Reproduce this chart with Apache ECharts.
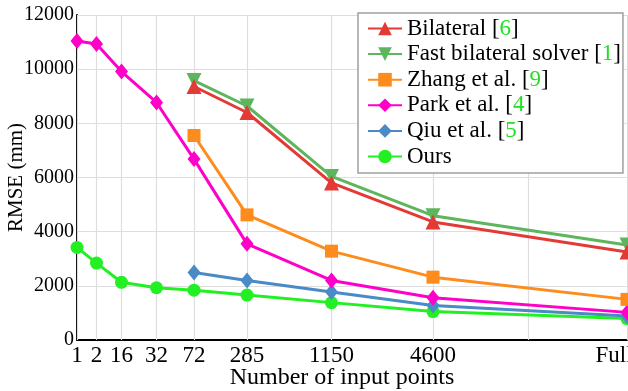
<!DOCTYPE html>
<html>
<head>
<meta charset="utf-8">
<script src="https://cdn.jsdelivr.net/npm/echarts@6/dist/echarts.min.js"></script>
<style>
html,body{margin:0;padding:0;background:#fff;}
#chart{width:628px;height:391px;}
</style>
</head>
<body>
<div id="chart"></div>
<script>
// Category labels and their positions on the (non-uniform) x axis
const categories = ['1', '2', '16', '32', '72', '285', '1150', '4600', 'Full'];
const xPositions = [0, 0.195, 0.445, 0.795, 1.17, 1.70, 2.545, 3.56, 5.5];
const extraTick = 4.51; // unlabeled grid tick
const yTicks = [0, 2000, 4000, 6000, 8000, 10000, 12000];

// RMSE (mm) values, null where a method has no result
const bilateral = [null, null, null, null, 9360, 8400, 5800, 4360, 3250];
const fastBilateral = [null, null, null, null, 9580, 8640, 6040, 4590, 3510];
const zhang = [null, null, null, null, 7550, 4620, 3280, 2320, 1500];
const park = [11040, 10930, 9910, 8770, 6680, 3550, 2200, 1560, 1020];
const qiu = [null, null, null, null, 2490, 2200, 1770, 1270, 890];
const ours = [3420, 2840, 2130, 1930, 1840, 1660, 1380, 1050, 790];

const seriesNames = [
  'Bilateral [{c|6}]',
  'Fast bilateral solver [{c|1}]',
  'Zhang et al. [{c|9}]',
  'Park et al. [{c|4}]',
  'Qiu et al. [{c|5}]',
  'Ours'
];

function toPairs(vals) {
  const out = [];
  vals.forEach((v, i) => { if (v !== null) out.push([xPositions[i], v]); });
  return out;
}

const font = 'Liberation Serif';
const seriesDefs = [
  { data: bilateral, color: '#e43a36', symbol: 'triangle', size: 15, rotate: 0 },
  { data: fastBilateral, color: '#5db55d', symbol: 'triangle', size: 15, rotate: 180 },
  { data: zhang, color: '#fd8c1d', symbol: 'rect', size: 13, rotate: 0 },
  { data: park, color: '#fe00c8', symbol: 'diamond', size: [13, 16], rotate: 0 },
  { data: qiu, color: '#4a8ac6', symbol: 'diamond', size: [13, 16], rotate: 0 },
  { data: ours, color: '#22f022', symbol: 'circle', size: 13, rotate: 0 }
];

const chart = echarts.init(document.getElementById('chart'), null, { renderer: 'canvas' });
const option = {
  animation: false,
  backgroundColor: '#fff',
  grid: { left: 77, right: 1, top: 15, bottom: 51, containLabel: false, outerBoundsMode: 'none' },
  legend: {
    orient: 'vertical',
    left: 358,
    top: 13,
    padding: [4, 2, 5, 9],
    itemWidth: 34,
    itemHeight: 17,
    itemGap: 2.6,
    backgroundColor: '#fff',
    borderColor: '#a0a0a0',
    borderWidth: 1.5,
    borderRadius: 0,
    data: seriesNames,
    textStyle: {
      fontFamily: font, fontSize: 23, color: '#000', lineHeight: 23,
      rich: { c: { color: '#22e022', fontFamily: font, fontSize: 23, lineHeight: 23 } }
    }
  },
  xAxis: {
    type: 'value',
    min: 0,
    max: xPositions[xPositions.length - 1],
    name: 'Number of input points',
    nameLocation: 'middle',
    nameGap: 26,
    nameMoveOverlap: false,
    nameTextStyle: { fontFamily: font, fontSize: 24, color: '#000', padding: [0, 20, 0, 0] },
    axisLine: { show: true, lineStyle: { color: '#000', width: 2 } },
    axisTick: {
      show: true, inside: true, length: 325,
      customValues: xPositions.slice(0, 8).concat([extraTick, xPositions[8]]),
      lineStyle: { color: '#dedede', width: 1.2 }
    },
    axisLabel: {
      customValues: xPositions,
      fontFamily: font, fontSize: 23, color: '#000', margin: 4,
      formatter: function (v) {
        const i = xPositions.indexOf(v);
        if (i < 0) return '';
        if (categories[i] === 'Full') return '{f|Full}';
        return categories[i];
      },
      rich: { f: { fontFamily: font, fontSize: 23, color: '#000', padding: [0, 26, 0, 0] } }
    },
    splitLine: { show: false }
  },
  yAxis: {
    type: 'value',
    min: yTicks[0],
    max: yTicks[yTicks.length - 1],
    interval: 2000,
    name: 'RMSE (mm)',
    nameLocation: 'middle',
    nameGap: 50,
    nameMoveOverlap: false,
    nameTextStyle: { fontFamily: font, fontSize: 21, color: '#000' },
    axisLine: { show: true, lineStyle: { color: '#000', width: 2 } },
    axisTick: { show: false },
    axisLabel: { fontFamily: font, fontSize: 20, color: '#000', margin: 3, formatter: function (v) { return String(v); } },
    splitLine: { show: true, lineStyle: { color: '#dedede', width: 1.2 } }
  },
  series: seriesDefs.map((d, k) => ({
    name: seriesNames[k],
    type: 'line',
    data: toPairs(d.data),
    symbol: d.symbol,
    symbolSize: d.size,
    symbolRotate: d.rotate,
    showAllSymbol: true,
    clip: false,
    lineStyle: { color: d.color, width: 3 },
    itemStyle: { color: d.color },
    z: 10 - k
  }))
};
chart.setOption(option);
</script>
</body>
</html>
